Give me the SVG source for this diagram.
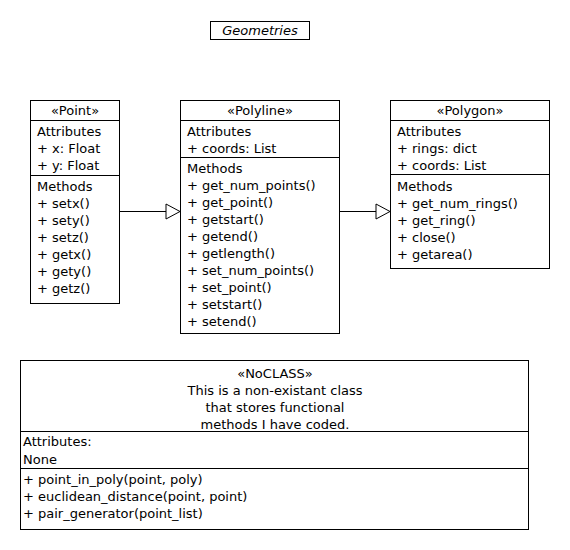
<svg xmlns="http://www.w3.org/2000/svg" width="570" height="550" viewBox="0 0 570 550">
<style>
  .box { fill: #ffffff; stroke: #000000; stroke-width: 1; }
  .sep { stroke: #000000; stroke-width: 1; }
  text { font-family: "DejaVu Sans", "Liberation Sans", sans-serif; font-size: 13px; fill: #000000; }
  .c { text-anchor: middle; }
  .title { font-style: italic; }
  .edge { stroke: #000000; stroke-width: 1; fill: none; }
  .head { fill: #ffffff; stroke: #000000; stroke-width: 1; }
</style>
<rect x="0" y="0" width="570" height="550" fill="#ffffff"/>

<g id="title">
  <rect class="box" x="210.5" y="21.5" width="99" height="18"/>
  <text class="c title" x="260" y="35">Geometries</text>
</g>

<g id="connectors">
  <line class="edge" x1="119.5" y1="211.5" x2="166" y2="211.5"/>
  <polygon class="head" points="166,204 180,211.5 166,219"/>
  <line class="edge" x1="339.5" y1="211.5" x2="376" y2="211.5"/>
  <polygon class="head" points="376,204 390,211.5 376,219"/>
</g>

<g id="Point">
  <rect class="box" x="30.5" y="100.5" width="89" height="203"/>
  <line class="sep" x1="30.5" y1="120.5" x2="119.5" y2="120.5"/>
  <line class="sep" x1="30.5" y1="175.5" x2="119.5" y2="175.5"/>
  <text class="c" x="75" y="115">«Point»</text>
  <text x="37" y="136">Attributes</text>
  <text x="37" y="153">+ x: Float</text>
  <text x="37" y="170">+ y: Float</text>
  <text x="37" y="191">Methods</text>
  <text x="37" y="208">+ setx()</text>
  <text x="37" y="225">+ sety()</text>
  <text x="37" y="242">+ setz()</text>
  <text x="37" y="259">+ getx()</text>
  <text x="37" y="276">+ gety()</text>
  <text x="37" y="293">+ getz()</text>
</g>

<g id="Polyline">
  <rect class="box" x="180.5" y="100.5" width="159" height="233"/>
  <line class="sep" x1="180.5" y1="120.5" x2="339.5" y2="120.5"/>
  <line class="sep" x1="180.5" y1="157.5" x2="339.5" y2="157.5"/>
  <text class="c" x="260" y="115">«Polyline»</text>
  <text x="187" y="136">Attributes</text>
  <text x="187" y="153">+ coords: List</text>
  <text x="187" y="173">Methods</text>
  <text x="187" y="190">+ get_num_points()</text>
  <text x="187" y="207">+ get_point()</text>
  <text x="187" y="224">+ getstart()</text>
  <text x="187" y="241">+ getend()</text>
  <text x="187" y="258">+ getlength()</text>
  <text x="187" y="275">+ set_num_points()</text>
  <text x="187" y="292">+ set_point()</text>
  <text x="187" y="309">+ setstart()</text>
  <text x="187" y="326">+ setend()</text>
</g>

<g id="Polygon">
  <rect class="box" x="390.5" y="100.5" width="159" height="168"/>
  <line class="sep" x1="390.5" y1="120.5" x2="549.5" y2="120.5"/>
  <line class="sep" x1="390.5" y1="174.5" x2="549.5" y2="174.5"/>
  <text class="c" x="470" y="115">«Polygon»</text>
  <text x="397" y="136">Attributes</text>
  <text x="397" y="153">+ rings: dict</text>
  <text x="397" y="170">+ coords: List</text>
  <text x="397" y="191">Methods</text>
  <text x="397" y="208">+ get_num_rings()</text>
  <text x="397" y="225">+ get_ring()</text>
  <text x="397" y="242">+ close()</text>
  <text x="397" y="259">+ getarea()</text>
</g>

<g id="NoCLASS">
  <rect class="box" x="20.5" y="360.5" width="508" height="169"/>
  <line class="sep" x1="20.5" y1="431.5" x2="528.5" y2="431.5"/>
  <line class="sep" x1="20.5" y1="468.5" x2="528.5" y2="468.5"/>
  <text class="c" x="275" y="378">«NoCLASS»</text>
  <text class="c" x="275" y="395">This is a non-existant class</text>
  <text class="c" x="275" y="412">that stores functional</text>
  <text class="c" x="275" y="429">methods I have coded.</text>
  <text x="23" y="446">Attributes:</text>
  <text x="23" y="464">None</text>
  <text x="23" y="484">+ point_in_poly(point, poly)</text>
  <text x="23" y="501">+ euclidean_distance(point, point)</text>
  <text x="23" y="518">+ pair_generator(point_list)</text>
</g>
</svg>
